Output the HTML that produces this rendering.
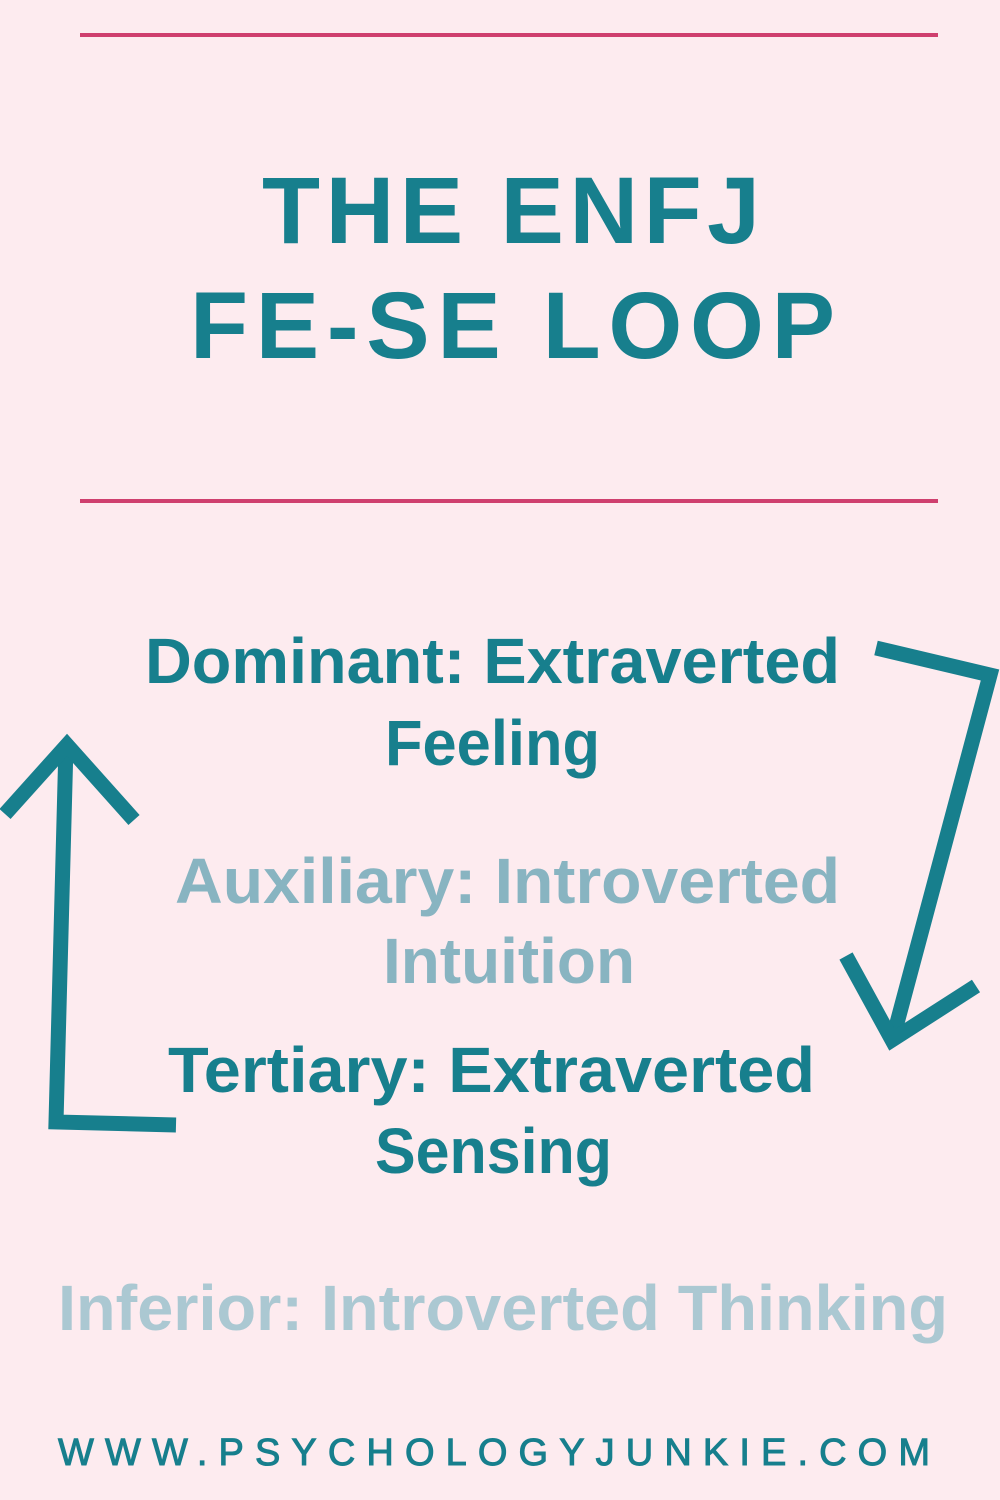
<!DOCTYPE html>
<html><head><meta charset="utf-8"><style>
html,body{margin:0;padding:0;background:#fdebef;}
svg{display:block}
</style></head><body>
<svg width="1000" height="1500" viewBox="0 0 1000 1500" xmlns="http://www.w3.org/2000/svg">
<rect width="1000" height="1500" fill="#fdebef"/>
<rect x="80" y="33" width="858" height="4" fill="#cf3f6e"/>
<rect x="80" y="499" width="858" height="4" fill="#cf3f6e"/>
<g font-family="Liberation Sans, sans-serif" font-weight="bold" fill="#177f8d">
<text x="262" y="243" font-size="95" textLength="498" lengthAdjust="spacing">THE ENFJ</text>
<text x="190" y="358" font-size="95" textLength="645" lengthAdjust="spacing">FE-SE LOOP</text>
<text x="145" y="683" font-size="64" textLength="695" lengthAdjust="spacingAndGlyphs">Dominant: Extraverted</text>
<text x="385" y="765" font-size="64" textLength="215" lengthAdjust="spacingAndGlyphs">Feeling</text>
<text x="168" y="1092" font-size="64" textLength="647" lengthAdjust="spacingAndGlyphs">Tertiary: Extraverted</text>
<text x="375" y="1173" font-size="64" textLength="237" lengthAdjust="spacingAndGlyphs">Sensing</text>
</g>
<g font-family="Liberation Sans, sans-serif" font-weight="bold" fill="#88b4c1">
<text x="175" y="903" font-size="64" textLength="665" lengthAdjust="spacingAndGlyphs">Auxiliary: Introverted</text>
<text x="383" y="983" font-size="64" textLength="252" lengthAdjust="spacingAndGlyphs">Intuition</text>
</g>
<text x="58" y="1330" font-family="Liberation Sans, sans-serif" font-weight="bold" fill="#abc8d2" font-size="64" textLength="890" lengthAdjust="spacingAndGlyphs">Inferior: Introverted Thinking</text>
<text x="58" y="1465" font-family="Liberation Sans, sans-serif" fill="#177f8d" stroke="#177f8d" stroke-width="1" font-size="38" textLength="872" lengthAdjust="spacing">WWW.PSYCHOLOGYJUNKIE.COM</text>
<g fill="none" stroke="#177f8d" stroke-width="15" stroke-linejoin="miter">
<polyline points="876,648 990,675 893,1038"/>
<polyline points="846,956 892,1040 976,986"/>
<polyline points="176,1125 56,1122 66,745"/>
<polyline points="5,814 67,745 134,820"/>
</g>
</svg>
</body></html>
